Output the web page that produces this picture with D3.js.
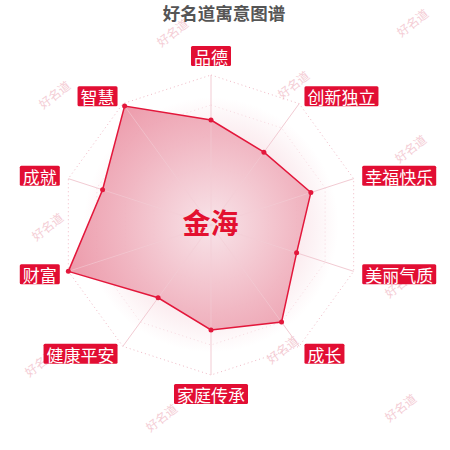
<!DOCTYPE html>
<html><head><meta charset="utf-8">
<script src="https://cdn.jsdelivr.net/npm/d3@7/dist/d3.min.js"></script>
<style>
html,body{margin:0;padding:0;background:#fff;}
text{font-family:"Noto Sans CJK SC","Noto Sans",sans-serif;}
</style></head>
<body><svg id="chart" width="450" height="450"></svg>
<script>
const title = "好名道寓意图谱";
const centerName = "金海";
const categories = ["品德","创新独立","幸福快乐","美丽气质","成长","家庭传承","健康平安","财富","成就","智慧"];
const values = [70,60,70,60,80,70,60,100,76,98];
const maxValue = 100;
const splitLevels = [20,40,60,80,100];
const watermarkText = "好名道";
const watermarks = [[172,32],[412,22],[54,94],[293,84],[410,148],[47,226],[400,283],[40,362],[282,349],[161,417],[400,407]];

const svg = d3.select("#chart");
const cx = 211, cy = 225, R = 150;
const r = d3.scaleLinear().domain([0, maxValue]).range([0, R]);
const ang = d3.scaleLinear().domain([0, categories.length]).range([0, 2*Math.PI]);
const pt = (i, v) => [cx + r(v)*Math.sin(ang(i)), cy - r(v)*Math.cos(ang(i))];

const defs = svg.append("defs");
const bg = defs.append("radialGradient").attr("id","bg").attr("gradientUnits","userSpaceOnUse")
  .attr("cx",cx).attr("cy",cy).attr("r",R);
bg.append("stop").attr("offset","0").attr("stop-color","#f4c7d1").attr("stop-opacity",0.55);
bg.append("stop").attr("offset","0.6").attr("stop-color","#f4c7d1").attr("stop-opacity",0.35);
bg.append("stop").attr("offset","0.85").attr("stop-color","#f4c7d1").attr("stop-opacity",0.0);
const ag = defs.append("radialGradient").attr("id","area").attr("gradientUnits","userSpaceOnUse")
  .attr("cx",cx).attr("cy",cy).attr("r",R);
ag.append("stop").attr("offset","0").attr("stop-color","#f8e4e9");
ag.append("stop").attr("offset","1").attr("stop-color","#ea8ea0");

// watermarks
svg.append("g").selectAll("text").data(watermarks).join("text")
  .attr("transform", d => `translate(${d[0]},${d[1]}) rotate(-38)`)
  .attr("text-anchor","middle").attr("dominant-baseline","central")
  .attr("font-size",12).attr("fill","#f4cdd5").text(watermarkText);

// title
svg.append("text").attr("x",224).attr("y",20).attr("text-anchor","middle")
  .attr("font-size",17.5).attr("font-weight","bold")
  .attr("fill","#555").text(title);

const ringPath = lv => d3.line()(categories.map((c,i)=>pt(i,lv))) + "Z";
// background
svg.append("path").attr("d", ringPath(maxValue)).attr("fill","url(#bg)");
// split rings (dotted)
svg.append("g").selectAll("path").data(splitLevels).join("path")
  .attr("d", ringPath).attr("fill","none")
  .attr("stroke","#f0b9c5").attr("stroke-width",1)
  .attr("stroke-dasharray","1,3")
  .attr("opacity", d => d === maxValue ? 1 : 0.5);
// axes
svg.append("g").selectAll("line").data(categories).join("line")
  .attr("x1",cx).attr("y1",cy)
  .attr("x2",(d,i)=>pt(i,maxValue)[0]).attr("y2",(d,i)=>pt(i,maxValue)[1])
  .attr("stroke","#f2cbd3").attr("stroke-width",1);

// data area
const dataPts = values.map((v,i)=>pt(i,v));
svg.append("path").attr("d", d3.line()(dataPts)+"Z")
  .attr("fill","url(#area)").attr("fill-opacity",0.9)
  .attr("stroke","#e3173b").attr("stroke-width",1.5);
// axes over the area (faint)
svg.append("g").selectAll("line").data(categories).join("line")
  .attr("x1",cx).attr("y1",cy)
  .attr("x2",(d,i)=>pt(i,values[i])[0]).attr("y2",(d,i)=>pt(i,values[i])[1])
  .attr("stroke","#f4d0d8").attr("stroke-width",1).attr("opacity",0.6);
svg.append("g").selectAll("circle").data(dataPts).join("circle")
  .attr("cx",d=>d[0]).attr("cy",d=>d[1]).attr("r",2.5).attr("fill","#e3173b");

// center name
svg.append("text").attr("x",210.5).attr("y",222).attr("text-anchor","middle")
  .attr("dominant-baseline","central").attr("font-size",28).attr("font-weight","bold")
  .attr("fill","#e3102f").text(centerName);

// labels
const fs = 17, padX = 3, boxH = 20, gap = 9;
const lg = svg.append("g");
categories.forEach((c,i)=>{
  const a = ang(i), s = Math.sin(a), co = Math.cos(a);
  const [x,y] = pt(i, maxValue + gap*maxValue/R);
  const g = lg.append("g");
  const t = g.append("text").attr("font-size",fs).attr("fill","#fff")
    .attr("dominant-baseline","central").text(c);
  const w = t.node().getComputedTextLength() + 2*padX;
  let bx = Math.abs(s) < 0.01 ? x - w/2 : (s > 0 ? x : x - w);
  let by = co > 0.99 ? y - boxH : (co < -0.99 ? y : y - boxH/2);
  g.insert("rect","text").attr("x",bx).attr("y",by).attr("width",w).attr("height",boxH)
    .attr("rx",1.5).attr("fill","#e20e33");
  t.attr("x",bx+padX).attr("y",by+boxH/2+0.5);
});
</script></body></html>
